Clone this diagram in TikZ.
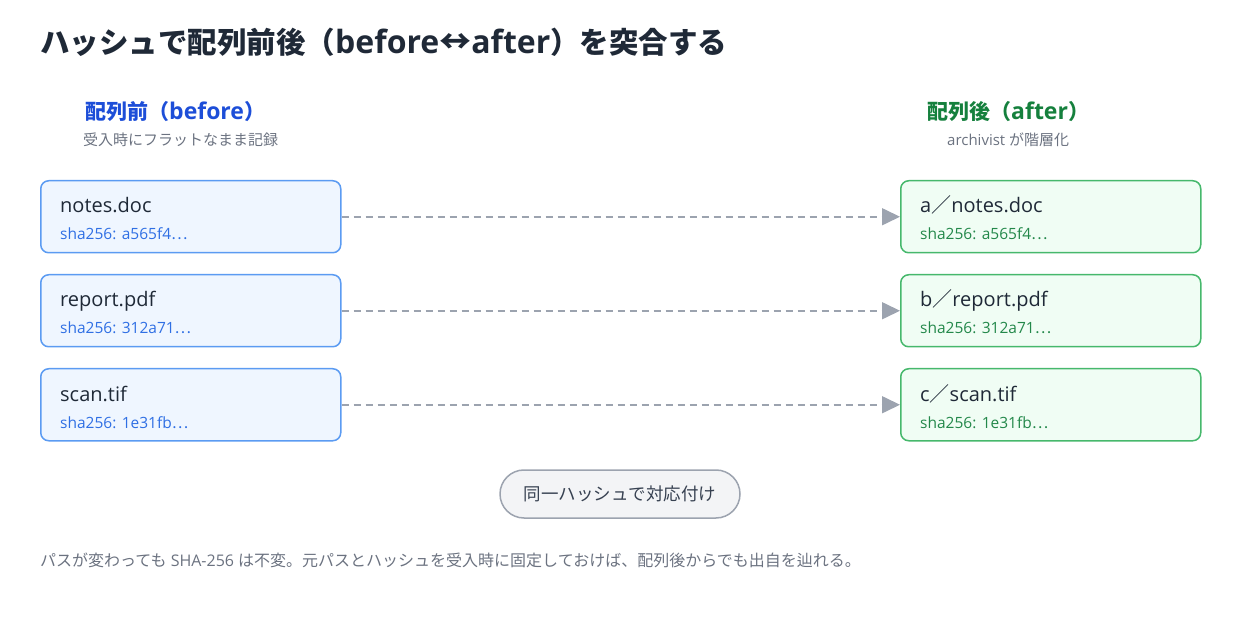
\documentclass[tikz,border=0pt]{standalone}
\usepackage{fontspec}
\setmainfont{Open Sans}
\newfontfamily\jp{Noto Sans CJK JP}
\usetikzlibrary{arrows.meta}
\definecolor{inkdark}{HTML}{1F2937}
\definecolor{inkgray}{HTML}{6B7280}
\definecolor{headblue}{HTML}{1D4ED8}
\definecolor{headgreen}{HTML}{15803D}
\definecolor{hashblue}{HTML}{2F6FE4}
\definecolor{hashgreen}{HTML}{23884A}
\definecolor{lineblue}{HTML}{5B9BF2}
\definecolor{linegreen}{HTML}{46B86C}
\definecolor{fillblue}{HTML}{EFF6FF}
\definecolor{fillgreen}{HTML}{F0FDF4}
\definecolor{arrowgray}{HTML}{9CA3AF}
\definecolor{pillfill}{HTML}{F3F4F6}
\definecolor{pilltext}{HTML}{374151}
\begin{document}
\begin{tikzpicture}[x=1pt, y=-1pt,
  filebox/.style={rectangle, draw=#1, line width=1.5pt, rounded corners=8pt, minimum width=300pt, minimum height=72pt, anchor=north west},
  fname/.style={anchor=base west, inner sep=0pt, text=inkdark, font=\fontsize{20}{24}\selectfont},
  hash/.style={anchor=base west, inner sep=0pt, text=#1, font=\fontsize{15.5}{18}\selectfont},
  match/.style={draw=arrowgray, line width=1.6pt, dash pattern=on 7pt off 5pt, -{Triangle[length=18pt, width=17pt]}}]
  \useasboundingbox (0,0) rectangle (1240,620);
  % title and column heads
  \node[anchor=base west, inner sep=0pt, text=inkdark, font=\fontsize{29.5}{34}\selectfont\bfseries] (title) at (40,54) {{\jp ハッシュで配列前後（}{\fontsize{32}{34}\selectfont before{\jp ↔}after}{\jp ）を突合する}};
  \node[anchor=base west, inner sep=0pt, text=headblue, font=\fontsize{21}{25}\selectfont\bfseries] (hbefore) at (85,120) {{\jp 配列前（}{\fontsize{23}{25}\selectfont before}{\jp ）}};
  \node[anchor=base west, inner sep=0pt, text=inkgray, font=\fontsize{15}{18}\selectfont] (sbefore) at (83,146) {\jp 受入時にフラットなまま記録};
  \node[anchor=base west, inner sep=0pt, text=headgreen, font=\fontsize{21}{25}\selectfont\bfseries] (hafter) at (927,120) {{\jp 配列後（}{\fontsize{23}{25}\selectfont after}{\jp ）}};
  \node[anchor=base west, inner sep=0pt, text=inkgray, font=\fontsize{15}{18}\selectfont] (safter) at (947,146) {archivist {\jp が階層化}};
  % before boxes
  \node[filebox=lineblue, fill=fillblue] (b1) at (40,180) {};
  \node[filebox=lineblue, fill=fillblue] (b2) at (40,274) {};
  \node[filebox=lineblue, fill=fillblue] (b3) at (40,368) {};
  \node[fname] (b1n) at (60,213) {notes.doc};
  \node[hash=hashblue] (b1h) at (60,240) {sha256: a565f4{\jp ⋯}};
  \node[fname] (b2n) at (60,307) {report.pdf};
  \node[hash=hashblue] (b2h) at (60,334) {sha256: 312a71{\jp ⋯}};
  \node[fname] (b3n) at (60,401) {scan.tif};
  \node[hash=hashblue] (b3h) at (60,428) {sha256: 1e31fb{\jp ⋯}};
  % after boxes
  \node[filebox=linegreen, fill=fillgreen] (a1) at (900,180) {};
  \node[filebox=linegreen, fill=fillgreen] (a2) at (900,274) {};
  \node[filebox=linegreen, fill=fillgreen] (a3) at (900,368) {};
  \node[fname] (a1n) at (920,213) {a{\jp ／}notes.doc};
  \node[hash=hashgreen] (a1h) at (920,240) {sha256: a565f4{\jp ⋯}};
  \node[fname] (a2n) at (920,307) {b{\jp ／}report.pdf};
  \node[hash=hashgreen] (a2h) at (920,334) {sha256: 312a71{\jp ⋯}};
  \node[fname] (a3n) at (920,401) {c{\jp ／}scan.tif};
  \node[hash=hashgreen] (a3h) at (920,428) {sha256: 1e31fb{\jp ⋯}};
  % matching arrows
  \foreach \i in {1,2,3}
    \draw[match] (b\i.east) -- (a\i.west);
  % pill and note
  \node[draw=arrowgray, fill=pillfill, line width=1.5pt, rounded corners=24pt, minimum width=240pt, minimum height=48pt, text=pilltext, font=\fontsize{17.5}{20}\selectfont\jp] (pill) at (620,494) {同一ハッシュで対応付け};
  \node[anchor=base west, inner sep=0pt, text=inkgray, font=\fontsize{16}{19}\selectfont] (note) at (40,566) {{\jp パスが変わっても} SHA-256 {\jp は不変。元パスとハッシュを受入時に固定しておけば、配列後からでも出自を辿れる。}};
\end{tikzpicture}
\end{document}
